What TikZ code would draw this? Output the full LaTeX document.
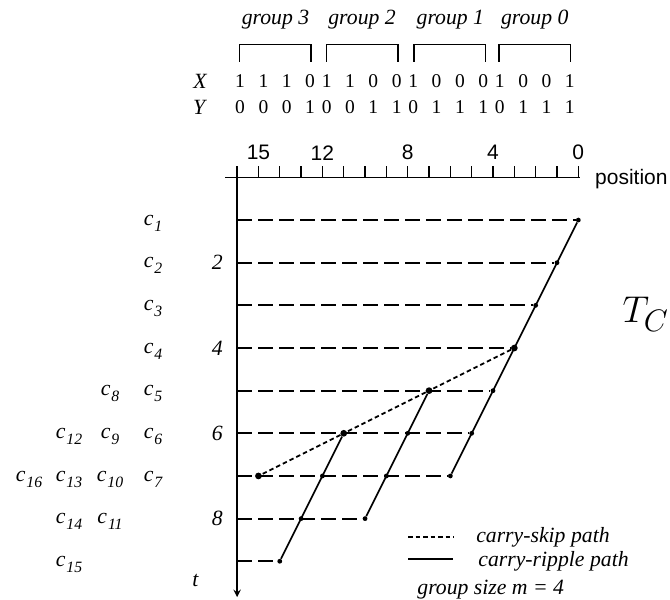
\documentclass[tikz,border=0pt]{standalone}
\usepackage{fontspec}
\setmainfont{Liberation Serif}
\setsansfont{Liberation Sans}
\usepackage{amsmath}

\newcommand\csub[1]{\textit{c}\kern0.6pt\raisebox{-0.6ex}{\fontsize{10.5}{10.5}\selectfont\textit{#1}}}

\begin{document}
\begin{tikzpicture}[>=stealth,
  lbl/.style={font=\fontsize{14.5}{16}\selectfont\itshape,inner sep=0pt},
  bit/.style={font=\fontsize{13}{15}\selectfont,inner sep=0pt},
  num/.style={font=\fontsize{14}{16}\selectfont\sffamily,inner sep=0pt},
  dot/.style={circle,fill,inner sep=0pt,minimum size=3.2pt},
  bigdot/.style={circle,fill,inner sep=0pt,minimum size=4.5pt},
  rowline/.style={dash pattern=on 10pt off 4pt,line width=1.2pt},
  skip/.style={dash pattern=on 3pt off 2pt,line width=1.2pt},
  ripple/.style={line width=1.1pt}]
  \useasboundingbox (-5.56,-9.90) rectangle (10.15,4.16);

  % operands and groups
  \node[lbl] (gl3) at (0.90,3.70) {group 3};
  \node[lbl] (gl2) at (2.93,3.70) {group 2};
  \node[lbl] (gl1) at (5.00,3.70) {group 1};
  \node[lbl] (gl0) at (6.98,3.70) {group 0};
  \foreach \l in {0.05,2.09,4.15,6.14}
    \draw[line width=0.9pt] (\l,2.71) -- (\l,3.11) -- ({\l+1.68},3.11) -- ({\l+1.68},2.71);
  \node[lbl] (xl) at (-0.87,2.26) {X};
  \node[lbl] (yl) at (-0.89,1.64) {Y};
  \foreach \b [count=\i from 0] in {1,1,1,0,1,1,0,0,1,0,0,0,1,0,0,1}
    \node[bit] (x\i) at ({0.07+floor(\i/4)*2.03+mod(\i,4)*0.547},2.26) {\b};
  \foreach \b [count=\i from 0] in {0,0,0,1,0,0,1,1,0,1,1,1,0,1,1,1}
    \node[bit] (y\i) at ({0.07+floor(\i/4)*2.03+mod(\i,4)*0.547},1.64) {\b};

  % axes
  \coordinate (hl) at (-0.28,0);
  \coordinate (hr) at (8.03,0);
  \coordinate (vt) at (0,0.26);
  \coordinate (vb) at (0,-9.84);
  \draw[line width=1.2pt] (hl) -- (hr);
  \foreach \x in {0,0.5,...,8}
    \draw[line width=0.9pt] (\x,0) -- (\x,0.26);
  \draw[->,line width=1.2pt] (vt) -- (vb);
  \node[num] (n15) at (0.5,0.58) {15};
  \node[num] (n12) at (2,0.58) {12};
  \node[num] (n8) at (4,0.58) {8};
  \node[num] (n4) at (6,0.58) {4};
  \node[num] (n0) at (8,0.58) {0};
  \node[num,anchor=west] (pos) at (8.39,-0.04) {position};
  \node[lbl,anchor=east] (t2) at (-0.33,-2) {2};
  \node[lbl,anchor=east] (t4) at (-0.33,-4) {4};
  \node[lbl,anchor=east] (t6) at (-0.33,-6) {6};
  \node[lbl,anchor=east] (t8) at (-0.33,-8) {8};
  \node[lbl] (tt) at (-0.98,-9.44) {t};

  % carries
  \node[dot] (k1) at (8,-1) {};
  \node[dot] (k2) at (7.5,-2) {};
  \node[dot] (k3) at (7,-3) {};
  \node[bigdot] (k4) at (6.5,-4) {};
  \node[dot] (k5) at (6,-5) {};
  \node[dot] (k6) at (5.5,-6) {};
  \node[dot] (k7) at (5,-7) {};
  \node[bigdot] (k8) at (4.5,-5) {};
  \node[dot] (k9) at (4,-6) {};
  \node[dot] (k10) at (3.5,-7) {};
  \node[dot] (k11) at (3,-8) {};
  \node[bigdot] (k12) at (2.5,-6) {};
  \node[dot] (k13) at (2,-7) {};
  \node[dot] (k14) at (1.5,-8) {};
  \node[dot] (k15) at (1,-9) {};
  \node[bigdot] (k16) at (0.5,-7) {};
  \foreach \t/\k in {1/k1,2/k2,3/k3,4/k4,5/k5,6/k6,7/k7,8/k11,9/k15}
    \draw[rowline] (0,-\t) -- (\k);
  \draw[ripple] (k1) -- (k7);
  \draw[ripple] (k8) -- (k11);
  \draw[ripple] (k12) -- (k15);
  \draw[skip] (k4) -- (k8) -- (k12) -- (k16);

  \node[lbl,anchor=base] (c1) at (-1.97,-1.12) {\csub{1}};
  \node[lbl,anchor=base] (c2) at (-1.97,-2.12) {\csub{2}};
  \node[lbl,anchor=base] (c3) at (-1.97,-3.12) {\csub{3}};
  \node[lbl,anchor=base] (c4) at (-1.97,-4.12) {\csub{4}};
  \node[lbl,anchor=base] (c5) at (-1.97,-5.12) {\csub{5}};
  \node[lbl,anchor=base] (c6) at (-1.97,-6.12) {\csub{6}};
  \node[lbl,anchor=base] (c7) at (-1.97,-7.12) {\csub{7}};
  \node[lbl,anchor=base] (c8) at (-2.98,-5.12) {\csub{8}};
  \node[lbl,anchor=base] (c9) at (-2.98,-6.12) {\csub{9}};
  \node[lbl,anchor=base] (c10) at (-2.98,-7.12) {\csub{10}};
  \node[lbl,anchor=base] (c11) at (-2.98,-8.12) {\csub{11}};
  \node[lbl,anchor=base] (c12) at (-3.94,-6.12) {\csub{12}};
  \node[lbl,anchor=base] (c13) at (-3.94,-7.12) {\csub{13}};
  \node[lbl,anchor=base] (c14) at (-3.94,-8.12) {\csub{14}};
  \node[lbl,anchor=base] (c15) at (-3.94,-9.12) {\csub{15}};
  \node[lbl,anchor=base] (c16) at (-4.88,-7.12) {\csub{16}};

  \node[anchor=base west,inner sep=0pt,font=\fontsize{32}{34}\selectfont] (tc) at (9.03,-3.41) {$T_C$};

  % legend
  \coordinate (s1) at (4.01,-8.43);
  \coordinate (s2) at (5.07,-8.43);
  \coordinate (r1) at (4.01,-8.94);
  \coordinate (r2) at (5.07,-8.94);
  \draw[skip] (s1) -- (s2);
  \draw[ripple] (r1) -- (r2);
  \node[lbl,anchor=west] (ls) at (5.60,-8.45) {carry-skip path};
  \node[lbl,anchor=west] (lr) at (5.65,-9.00) {carry-ripple path};
  \node[lbl,anchor=west] (lm) at (4.22,-9.67) {group size m = 4};
\end{tikzpicture}
\end{document}
